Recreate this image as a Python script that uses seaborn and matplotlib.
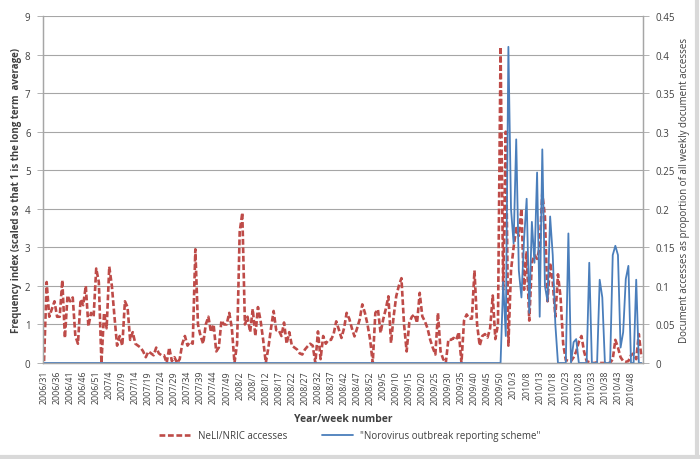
import matplotlib
matplotlib.use("Agg")
import matplotlib.pyplot as plt
import seaborn as sns
import pandas as pd
import numpy as np
from matplotlib.lines import Line2D

# ---- data -------------------------------------------------------------
years = [2006, 2007, 2008, 2009, 2010]
first_week = [31, 1, 1, 1, 1]
last_week = [52, 52, 52, 52, 52]

neli_index = [
    0.05, 2.1, 1.2, 1.4, 1.6, 1.2, 1.2, 2.15, 0.65, 1.75,
    1.6, 1.7, 0.7, 0.5, 1.65, 1.5, 2.0, 0.95, 1.3, 1.2,
    2.45, 2.1, 0.0, 1.3, 0.9, 2.5, 2.0, 1.2, 0.45, 0.7,
    0.45, 1.6, 1.45, 0.6, 0.8, 0.5, 0.45, 0.4, 0.3, 0.15,
    0.3, 0.25, 0.2, 0.4, 0.25, 0.2, 0.2, 0.0, 0.4, 0.05,
    0.15, 0.0, 0.1, 0.5, 0.7, 0.45, 0.55, 0.5, 2.95, 1.0,
    0.7, 0.5, 1.0, 1.2, 0.8, 1.0, 0.3, 0.4, 1.1, 1.0,
    1.0, 1.3, 0.9, 0.0, 0.5, 3.4, 3.9, 1.0, 1.2, 0.8,
    1.4, 0.7, 1.45, 1.1, 0.6, 0.0, 0.4, 0.9, 1.35, 0.85,
    0.85, 0.7, 1.05, 0.5, 0.8, 0.45, 0.4, 0.35, 0.25, 0.22,
    0.35, 0.43, 0.5, 0.45, 0.0, 0.82, 0.1, 0.7, 0.5, 0.6,
    0.6, 0.75, 1.08, 0.87, 0.65, 0.9, 1.3, 1.15, 0.9, 0.69,
    0.9, 1.13, 1.52, 1.3, 1.0, 0.6, 0.0, 1.3, 1.39, 0.78,
    1.13, 1.4, 1.73, 0.52, 1.2, 1.73, 2.0, 2.2, 1.0, 0.3,
    1.04, 1.2, 1.26, 1.04, 1.82, 1.21, 1.08, 0.9, 0.61, 0.4,
    0.22, 1.3, 0.3, 0.1, 0.0, 0.61, 0.6, 0.65, 0.6, 0.8,
    0.0, 1.1, 1.26, 1.15, 1.15, 2.4, 1.0, 0.45, 0.7, 0.75,
    0.66, 0.9, 1.75, 0.62, 1.0, 8.2, 1.9, 6.0, 0.45, 2.4,
    3.0, 3.5, 3.3, 4.0, 1.9, 2.9, 1.1, 2.6, 2.8, 2.7,
    3.0, 4.4, 3.8, 1.6, 2.6, 2.1, 1.2, 2.3, 1.7, 0.5,
    0.08, 0.05, 0.05, 0.15, 0.3, 0.55, 0.7, 0.3, 0.05, 0.02,
    0.0, 0.0, 0.02, 0.0, 0.0, 0.0, 0.02, 0.0, 0.1, 0.6,
    0.4, 0.15, 0.05, 0.03, 0.05, 0.2, 0.25, 0.1, 0.75, 0.15,
]

noro_share = [0.0] * 176 + [
    0.105, 0.035, 0.41, 0.2, 0.155, 0.29, 0.12, 0.085, 0.16,
    0.213, 0.065, 0.183, 0.13, 0.247, 0.06, 0.277, 0.1, 0.08, 0.19,
    0.14, 0.05, 0.0, 0.0, 0.0, 0.0, 0.168, 0.0, 0.027, 0.031,
    0.0, 0.0, 0.0, 0.0, 0.13, 0.0, 0.0, 0.0, 0.108, 0.085,
    0.0, 0.0, 0.0, 0.14, 0.152, 0.14, 0.02, 0.04, 0.109, 0.126,
    0.0, 0.0, 0.108, 0.0, 0.0,
]

# weekly category labels
week_labels = []
for y, f, l in zip(years, first_week, last_week):
    for w in range(f, l + 1):
        week_labels.append(f"{y}/{w}")
week_labels = week_labels[:len(neli_index)]

df = pd.DataFrame({
    "pos": np.arange(len(neli_index)),
    "week": week_labels,
    "neli": neli_index,
    "noro": noro_share,
})

# ---- style ------------------------------------------------------------
sns.set_style("white")
plt.rcParams["font.family"] = ["Open Sans", "DejaVu Sans"]

red = "#be4b48"
blue = "#4a7ebb"
grid_col = "#a6a6a6"
txt = "#404040"

fig = plt.figure(figsize=(7.0, 4.6), dpi=100)
ax = fig.add_axes([43 / 700, 1 - 364 / 460, 600 / 700, 347 / 460])
ax2 = ax.twinx()

sns.lineplot(data=df, x="pos", y="neli", ax=ax, color=red, linewidth=1.9,
             linestyle=(0, (2.2, 1.0)), label="NeLI/NRIC accesses", legend=False)
sns.lineplot(data=df, x="pos", y="noro", ax=ax2, color=blue, linewidth=1.3,
             label='"Norovirus outbreak reporting scheme"', legend=False)

ax.set_xlim(-0.4, len(neli_index) - 0.4)
ax.set_ylim(0, 9)
ax2.set_ylim(0, 0.45)
ax.set_yticks(range(0, 10))
ax2.set_yticks([0, 0.05, 0.1, 0.15, 0.2, 0.25, 0.3, 0.35, 0.4, 0.45])
ax2.set_yticklabels(["0", "0.05", "0.1", "0.15", "0.2", "0.25", "0.3", "0.35", "0.4", "0.45"])

ax.yaxis.grid(True, color=grid_col, linewidth=0.8)
ax.set_axisbelow(True)

ticks = list(range(len(week_labels)))
ax.set_xticks(ticks)
ax.set_xticklabels([lab if i % 5 == 0 else "" for i, lab in enumerate(week_labels)],
                   rotation=90, fontsize=6.3, color=txt)
ax.tick_params(axis="x", length=3, width=0.6, color=grid_col, pad=2)
ax.tick_params(axis="y", length=4, width=0.6, color=grid_col, labelsize=7, labelcolor=txt, pad=5)
ax2.tick_params(axis="y", length=4, width=0.6, color=grid_col, labelsize=7, labelcolor=txt, pad=5)

for a in (ax, ax2):
    a.spines["top"].set_visible(False)
    for s in ["left", "right", "bottom"]:
        a.spines[s].set_color(grid_col)
        a.spines[s].set_linewidth(0.9)

ax.set_xlabel("Year/week number", fontsize=7.5, fontweight="bold", color=txt, labelpad=7)
ax.set_ylabel("Frequency index (scaled so that 1 is the long term  average)",
              fontsize=7, fontweight="bold", color=txt, labelpad=2)
ax2.set_ylabel("Document accesses as proportion of all weekly document accesses",
               fontsize=7, color=txt, labelpad=3)

handles = [Line2D([], [], color=red, linewidth=1.9, linestyle=(0, (2.2, 1.0))),
           Line2D([], [], color=blue, linewidth=1.3)]
fig.legend(handles, ["NeLI/NRIC accesses", '"Norovirus outbreak reporting scheme"'],
           loc="center", bbox_to_anchor=(0.5, 1 - 437 / 460), ncol=2, frameon=False,
           fontsize=7, handlelength=3.2, columnspacing=3.5, labelcolor=txt)

# chart-area border (right and bottom strips)
fig.add_artist(Line2D([0.9955, 0.9955], [0, 1], transform=fig.transFigure,
                      color="#d9d9d9", linewidth=3))
fig.add_artist(Line2D([0, 1], [0.005, 0.005], transform=fig.transFigure,
                      color="#d9d9d9", linewidth=3))

fig.savefig("out.png", dpi=100, facecolor="white")
